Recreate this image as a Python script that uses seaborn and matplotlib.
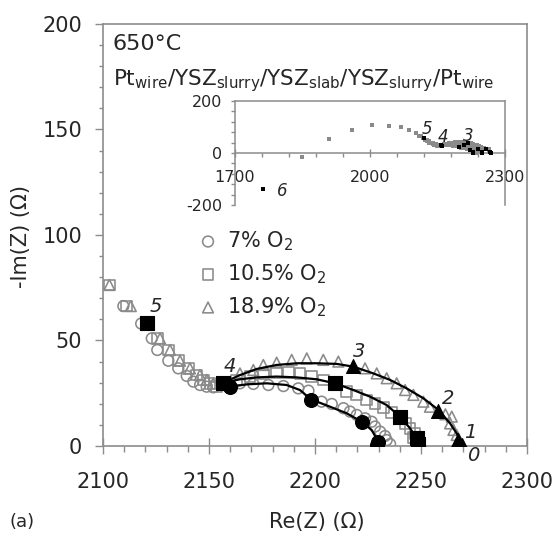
import numpy as np
import matplotlib
matplotlib.use("Agg")
import matplotlib.pyplot as plt
from matplotlib.ticker import MultipleLocator
import seaborn as sns

# 7% O2 - open circles
c7_re = [2109.6, 2118.0, 2123.0, 2125.6, 2130.8, 2135.5, 2139.5, 2142.6, 2145.8, 2148.9,
         2152.0, 2164.6, 2170.9, 2178.0, 2185.1, 2192.1, 2196.9, 2203.1, 2207.9, 2213.4,
         2216.5, 2219.7, 2223.6, 2226.7, 2228.3, 2230.7, 2233.0, 2233.8, 2235.4]
c7_im = [66.3, 58.0, 51.0, 45.5, 40.4, 36.8, 33.2, 30.5, 28.9, 28.1,
         27.8, 29.7, 29.4, 28.9, 28.4, 27.3, 26.2, 21.0, 19.9, 17.9,
         16.3, 14.7, 13.1, 11.5, 9.2, 6.8, 4.7, 2.8, 0.9]

# 10.5% O2 - open squares
s10_re = [2103.0, 2111.2, 2125.6, 2130.8, 2135.5, 2140.2, 2144.2, 2147.3, 2150.5, 2153.6,
          2163.0, 2169.3, 2175.6, 2181.9, 2187.4, 2192.9, 2198.4, 2203.9, 2214.9, 2219.7,
          2224.4, 2228.3, 2232.2, 2236.2, 2242.5, 2244.8, 2247.2, 2246.5, 2249.0]
s10_im = [76.3, 66.3, 51.0, 45.5, 40.4, 36.8, 33.6, 31.3, 29.7, 28.1,
          31.3, 32.9, 34.1, 34.8, 34.8, 34.4, 32.9, 31.3, 25.8, 24.2,
          21.8, 20.2, 18.3, 15.8, 10.7, 8.4, 6.0, 4.0, 1.5]

# 18.9% O2 - open triangles
t18_re = [2103.0, 2113.1, 2126.9, 2131.6, 2136.3, 2141.0, 2145.7, 2148.9, 2152.0, 2164.6,
          2170.9, 2175.6, 2181.9, 2189.0, 2196.1, 2203.9, 2211.0, 2223.6, 2229.1, 2233.8,
          2238.5, 2242.5, 2246.4, 2251.1, 2254.2, 2261.5, 2264.5, 2263.7, 2265.3, 2266.8]
t18_im = [76.3, 66.3, 51.0, 45.5, 40.4, 36.8, 33.6, 31.3, 29.7, 34.4,
          36.0, 38.4, 39.5, 40.8, 41.5, 40.8, 40.0, 36.8, 34.4, 32.1,
          29.7, 26.5, 24.2, 21.0, 18.6, 15.0, 13.9, 10.7, 7.6, 5.2]

# highlighted (black) frequency points
bc_re = [2159.9, 2198.1, 2222.0, 2229.9, 2229.1]
bc_im = [27.8, 21.8, 11.5, 2.1, 0.5]
bs_re = [2120.6, 2156.7, 2209.4, 2240.1, 2248.0, 2248.7]
bs_im = [58.1, 29.7, 29.7, 13.6, 3.6, 1.0]
bt_re = [2218.1, 2258.2, 2267.6, 2269.2]
bt_im = [38.1, 16.7, 2.8, 0.5]

# fitted curves
fc_re = [2159.9, 2167.8, 2177.2, 2186.6, 2192.9, 2198.1, 2207.1, 2214.9, 2222.0, 2226.7, 2229.4, 2229.9]
fc_im = [28.1, 29.2, 29.7, 28.9, 26.5, 22.1, 18.6, 15.5, 11.5, 7.6, 2.8, 0.0]
fs_re = [2156.8, 2164.6, 2172.5, 2181.9, 2191.4, 2200.8, 2209.4, 2218.1, 2225.9, 2233.8, 2240.1, 2244.8, 2248.0, 2249.2]
fs_im = [30.0, 31.6, 32.5, 32.9, 32.5, 31.6, 29.7, 26.5, 23.4, 19.4, 13.9, 8.4, 3.6, 0.0]
ft_re = [2156.8, 2164.6, 2172.5, 2181.9, 2191.4, 2200.8, 2210.2, 2218.1, 2227.5, 2235.4, 2243.2,
         2251.1, 2258.2, 2263.7, 2266.8, 2268.4, 2269.7]
ft_im = [30.0, 33.6, 36.5, 38.4, 39.2, 39.2, 38.9, 37.6, 34.4, 31.3, 27.3,
         22.6, 17.1, 10.7, 6.0, 2.8, 0.0]

# point labels (frequency index)
lab_txt = ["5", "4", "3", "2", "1", "0"]
lab_re = [2125.0, 2160.0, 2220.8, 2262.7, 2273.0, 2274.5]
lab_im = [66.0, 37.5, 45.0, 22.7, 6.6, -4.5]

# inset: low frequency tail
tail_re = [1849.6, 1908.9, 1960.7, 2005.0, 2042.0, 2068.0, 2086.6]
tail_im = [-16.5, 53.0, 88.7, 106.0, 104.0, 99.0, 88.7]
p6_re = [1763.0]
p6_im = [-137.0]
in_lab_txt = ["5", "4", "3", "6"]
in_lab_re = [2126.0, 2161.5, 2218.0, 1804.0]
in_lab_im = [91.0, 63.0, 66.0, -146.0]

GRAY = "#8a8a8a"
FRAME = "#8c8c8c"

sns.set_theme(style="white")
plt.rcParams["font.family"] = ["DejaVu Sans"]
plt.rcParams["mathtext.fontset"] = "dejavusans"
plt.rcParams["axes.unicode_minus"] = False

fig = plt.figure(figsize=(5.59, 5.35), dpi=100)
ax = fig.add_axes([0.1843, 0.1664, 0.7585, 0.7888])

open_kw = dict(facecolors="none", edgecolor=GRAY, linewidth=1.15, s=60, ax=ax, zorder=2)
sns.scatterplot(x=c7_re, y=c7_im, marker="o", label=r"7% O$_{\mathregular{2}}$", **open_kw)
sns.scatterplot(x=s10_re, y=s10_im, marker="s", label=r"10.5% O$_{\mathregular{2}}$", **open_kw)
sns.scatterplot(x=t18_re, y=t18_im, marker="^", label=r"18.9% O$_{\mathregular{2}}$", **open_kw)

for xr, yi in [(fc_re, fc_im), (fs_re, fs_im), (ft_re, ft_im)]:
    sns.lineplot(x=xr, y=yi, sort=False, estimator=None, color="black", lw=1.6, ax=ax, zorder=3)

blk_kw = dict(color="black", edgecolor="black", s=100, ax=ax, zorder=4, legend=False)
sns.scatterplot(x=bc_re, y=bc_im, marker="o", **blk_kw)
sns.scatterplot(x=bs_re, y=bs_im, marker="s", **blk_kw)
sns.scatterplot(x=bt_re, y=bt_im, marker="^", **blk_kw)

for t, xr, yi in zip(lab_txt, lab_re, lab_im):
    ax.text(xr, yi, t, fontsize=14, style="italic", ha="center", va="center", zorder=5)

ax.set_xlim(2100, 2300)
ax.set_ylim(0, 200)
ax.xaxis.set_major_locator(MultipleLocator(50))
ax.xaxis.set_minor_locator(MultipleLocator(10))
ax.yaxis.set_major_locator(MultipleLocator(50))
ax.yaxis.set_minor_locator(MultipleLocator(10))
ax.tick_params(axis="x", which="major", direction="inout", length=12, width=1, color=FRAME,
               labelsize=15, pad=13)
ax.tick_params(axis="x", which="minor", direction="out", length=4.5, width=1, color=FRAME)
ax.tick_params(axis="y", which="major", direction="out", length=5.5, width=1, color=FRAME,
               labelsize=15, pad=9.5)
ax.tick_params(axis="y", which="minor", direction="out", length=3, width=1, color=FRAME)
ax.tick_params(bottom=True, left=True, which="both")
for sp in ax.spines.values():
    sp.set_color(FRAME)
    sp.set_linewidth(1.2)

leg = ax.legend(loc="upper left", bbox_to_anchor=(0.3535, 0.572), bbox_transform=fig.transFigure,
                frameon=False, fontsize=15, handlelength=1.0, handletextpad=0.4,
                labelspacing=0.45, borderpad=0, borderaxespad=0)

fig.text(21 / 559, 1 - 237 / 535, "-Im(Z) (Ω)", rotation=90, fontsize=15, ha="center", va="center")
fig.text(317 / 559, 1 - 522 / 535, "Re(Z) (Ω)", fontsize=15, ha="center", va="center")
fig.text(22 / 559, 1 - 522 / 535, "(a)", fontsize=13, ha="center", va="center")
fig.text(113 / 559, 1 - 50 / 535, "650°C", fontsize=16, ha="left", va="baseline")
fig.text(113 / 559, 1 - 85 / 535,
         r"Pt$_{\mathregular{wire}}$/YSZ$_{\mathregular{slurry}}$/YSZ$_{\mathregular{slab}}$"
         r"/YSZ$_{\mathregular{slurry}}$/Pt$_{\mathregular{wire}}$",
         fontsize=15.5, ha="left", va="baseline")

# inset with the full spectrum
axi = fig.add_axes([0.4204, 0.6168, 0.483, 0.1944])
small_kw = dict(marker="s", s=9, linewidth=0, ax=axi, legend=False)
for xr, yi in [(tail_re, tail_im), (c7_re, c7_im), (s10_re, s10_im), (t18_re, t18_im)]:
    sns.scatterplot(x=xr, y=yi, color=GRAY, zorder=2, **small_kw)
for xr, yi in [(bc_re, bc_im), (bs_re, bs_im), (bt_re, bt_im), (p6_re, p6_im)]:
    sns.scatterplot(x=xr, y=yi, color="black", zorder=3, **small_kw)
for t, xr, yi in zip(in_lab_txt, in_lab_re, in_lab_im):
    axi.text(xr, yi, t, fontsize=12, style="italic", ha="center", va="center", zorder=5)

axi.set_xlim(1700, 2300)
axi.set_ylim(-200, 200)
axi.xaxis.set_major_locator(MultipleLocator(300, offset=1700))
axi.xaxis.set_minor_locator(MultipleLocator(60, offset=1700))
axi.yaxis.set_major_locator(MultipleLocator(200))
axi.yaxis.set_minor_locator(MultipleLocator(40))
axi.spines["bottom"].set_position(("data", 0))
axi.tick_params(axis="x", which="major", direction="inout", length=6, width=1, color=FRAME,
                labelsize=11.5, pad=9)
axi.tick_params(axis="x", which="minor", direction="out", length=3, width=1, color=FRAME)
axi.tick_params(axis="y", which="both", direction="out", length=3, width=1, color=FRAME,
                labelsize=11.5, pad=6)
axi.tick_params(bottom=True, left=True, which="both")
for sp in axi.spines.values():
    sp.set_color(FRAME)
    sp.set_linewidth(1.1)

fig.savefig("out.png", dpi=100)
